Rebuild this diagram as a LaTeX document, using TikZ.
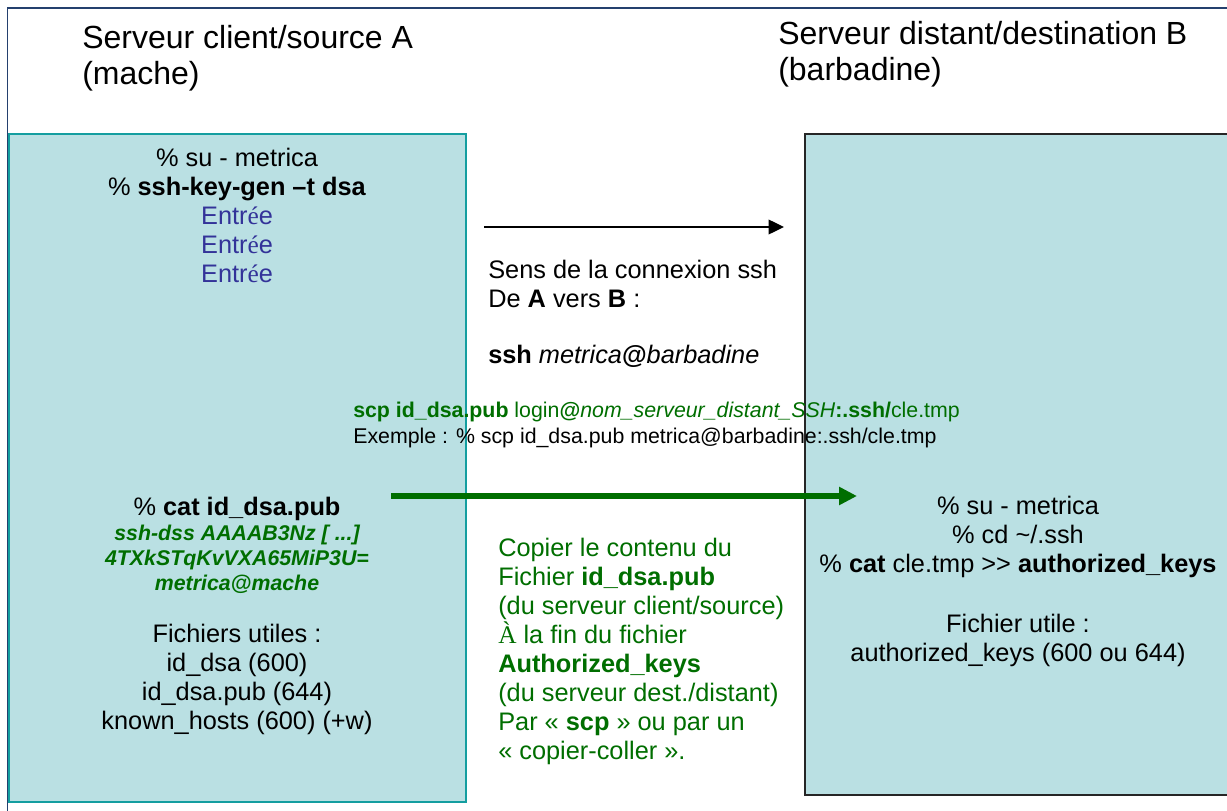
\documentclass[tikz,border=0pt]{standalone}
\usepackage{fontspec}
\setmainfont{Liberation Sans}
\newfontfamily\timesfont{Liberation Serif}
\usetikzlibrary{arrows.meta}

\definecolor{frameblue}{RGB}{36,64,110}
\definecolor{boxfill}{RGB}{186,224,227}
\definecolor{boxteal}{RGB}{20,158,160}
\definecolor{keygreen}{RGB}{0,110,0}
\definecolor{entblue}{RGB}{51,51,153}

\begin{document}
\begin{tikzpicture}[x=0.75pt,y=-0.75pt,
  % multi-line nodes are placed by the baseline of their last line
  titletext/.style={anchor=base west,inner sep=0,align=left,font=\fontsize{24}{26.5}\selectfont},
  bodyc/.style={anchor=base,inner sep=0,align=center,font=\fontsize{19}{21.75}\selectfont},
  bodyl/.style={anchor=base west,inner sep=0,align=left,font=\fontsize{19}{21.75}\selectfont},
  keytext/.style={anchor=base,inner sep=0,align=center,text=keygreen,font=\fontsize{16}{18.75}\selectfont\bfseries\itshape},
  smalll/.style={anchor=base west,inner sep=0,align=left,font=\fontsize{16}{19.5}\selectfont},
  srcbox/.style={draw=boxteal,line width=1.1pt,fill=boxfill,inner sep=0},
  dstbox/.style={draw=black!85,line width=1.3pt,fill=boxfill,inner sep=0},
  sshflow/.style={line width=1pt,-{Triangle[length=11.5pt,width=11pt]}},
  keyflow/.style={keygreen,line width=4.5pt,-{Triangle[length=13.5pt,width=13pt]}}]

\useasboundingbox (0,0) rectangle (1227,810);
\clip (0,0) rectangle (1227,810);

% page frame
\draw[frameblue,line width=1.1pt] (7.5,830) -- (7.5,8) -- (1240,8);

% server boxes
\node[srcbox,minimum width=342.75pt,minimum height=501pt] (srcA) at (237.5,468) {};
\node[dstbox,minimum width=330pt,minimum height=495.75pt] (dstB) at (1025,464.5) {};

% titles
\node[titletext] (titleA) at (82,84) {Serveur client/source A\\(mache)};
\node[titletext] (titleB) at (778,80) {Serveur distant/destination B\\(barbadine)};

% key generation on A
\node[bodyc] (keygen) at (237,282) {\% su - metrica\\
  \% \textbf{ssh-key-gen –t dsa}\\
  {\color{entblue}Entr{\timesfont é}e}\\
  {\color{entblue}Entr{\timesfont é}e}\\
  {\color{entblue}Entr{\timesfont é}e}};

\node[bodyc] (catpub) at (237,515) {\% \textbf{cat id\_dsa.pub}};
\node[keytext] (pubkey) at (237,590) {ssh-dss AAAAB3Nz [ ...]\\4TXkSTqKvVXA65MiP3U=\\metrica@mache};
\node[bodyc] (filesA) at (237,729) {Fichiers utiles :\\id\_dsa (600)\\id\_dsa.pub (644)\\known\_hosts (600) (+w)};

% connection direction
\coordinate (sshfrom) at (484,227);
\coordinate (sshto) at (784,227);
\draw[sshflow] (sshfrom) -- (sshto);
\node[bodyl] (sens) at (488,307) {Sens de la connexion ssh\\De \textbf{A} vers \textbf{B} :};
\node[bodyl] (sshcmd) at (488,363) {\textbf{ssh} \textit{metrica}\textbf{@}\textit{barbadine}};

% scp command
\node[smalll] (scp) at (353,443) {{\color{keygreen}\textbf{scp id\_dsa.pub} login\textbf{@}\textit{nom\_serveur\_distant\_SSH}\textbf{:.ssh/}cle.tmp}\\
  Exemple : \% scp id\_dsa.pub metrica@barbadine:.ssh/cle.tmp};

% public key copy
\coordinate (keyfrom) at (391,496);
\coordinate (keyto) at (857,496);
\draw[keyflow] (keyfrom) -- (keyto);
\node[bodyl,text=keygreen] (copy) at (498,759) {Copier le contenu du\\
  Fichier \textbf{id\_dsa.pub}\\
  (du serveur client/source)\\
  {\timesfont À} la fin du fichier\\
  \textbf{Authorized\_keys}\\
  (du serveur dest./distant)\\
  Par « \textbf{scp} » ou par un\\
  « copier-coller ».};

% installation on B
\node[bodyc] (install) at (1018,572) {\% su - metrica\\
  \% cd \textasciitilde/.ssh\\
  \% \textbf{cat} cle.tmp \textgreater{}\textgreater{} \textbf{authorized\_keys}};
\node[bodyc] (filesB) at (1018,661) {Fichier utile :\\authorized\_keys (600 ou 644)};

\end{tikzpicture}
\end{document}
